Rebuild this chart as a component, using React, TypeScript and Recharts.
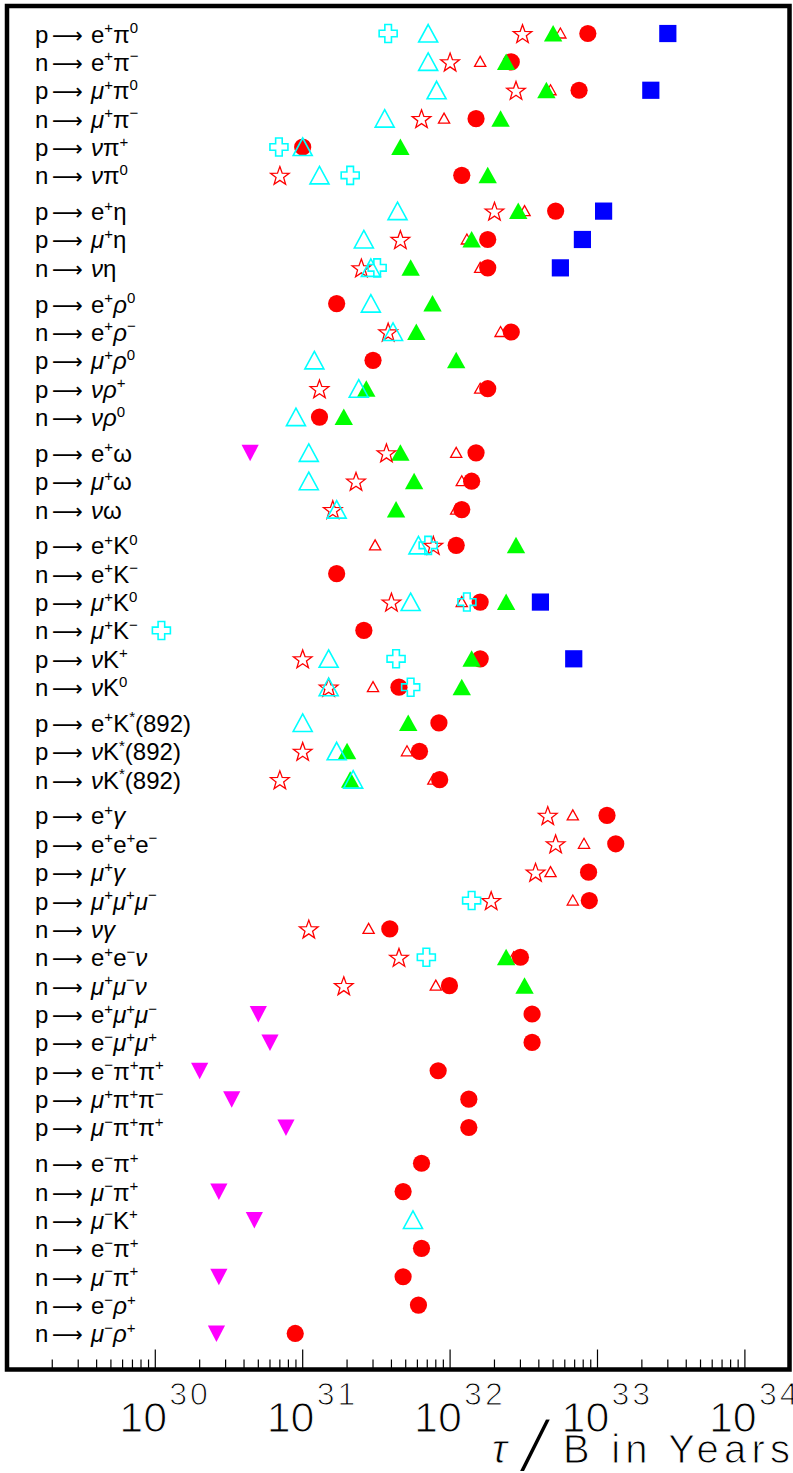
import React from 'react';
import { ScatterChart, Scatter, XAxis, YAxis, ReferenceArea, Label } from 'recharts';

// ---------- categories (decay modes, top to bottom) ----------
const decayModes: string[] = [
  'p→e^{+}π^{0}', 'n→e^{+}π^{−}', 'p→μ^{+}π^{0}', 'n→μ^{+}π^{−}', 'p→νπ^{+}', 'n→νπ^{0}',
  'p→e^{+}η', 'p→μ^{+}η', 'n→νη',
  'p→e^{+}ρ^{0}', 'n→e^{+}ρ^{−}', 'p→μ^{+}ρ^{0}', 'p→νρ^{+}', 'n→νρ^{0}',
  'p→e^{+}ω', 'p→μ^{+}ω', 'n→νω',
  'p→e^{+}K^{0}', 'n→e^{+}K^{−}', 'p→μ^{+}K^{0}', 'n→μ^{+}K^{−}', 'p→νK^{+}', 'n→νK^{0}',
  'p→e^{+}K^{*}(892)', 'p→νK^{*}(892)', 'n→νK^{*}(892)',
  'p→e^{+}γ', 'p→e^{+}e^{+}e^{−}', 'p→μ^{+}γ', 'p→μ^{+}μ^{+}μ^{−}', 'n→νγ', 'n→e^{+}e^{−}ν',
  'n→μ^{+}μ^{−}ν', 'p→e^{+}μ^{+}μ^{−}', 'p→e^{−}μ^{+}μ^{+}', 'p→e^{−}π^{+}π^{+}', 'p→μ^{+}π^{+}π^{−}', 'p→μ^{−}π^{+}π^{+}',
  'n→e^{−}π^{+}', 'n→μ^{−}π^{+}', 'n→μ^{−}K^{+}', 'n→e^{−}π^{+}', 'n→μ^{−}π^{+}', 'n→e^{−}ρ^{+}', 'n→μ^{−}ρ^{+}',
];
const groupSizes: number[] = [6, 3, 5, 3, 6, 3, 12, 7];

// ---------- series: [decay mode index, tau/B in years] ----------
const redCircle: [number, number][] = [
  [0, 8.6e32], [1, 2.6e32], [2, 7.5e32], [3, 1.5e32], [4, 1.0e31], [5, 1.2e32],
  [6, 5.2e32], [7, 1.8e32], [8, 1.8e32],
  [9, 1.7e31], [10, 2.6e32], [11, 3.0e31], [12, 1.8e32], [13, 1.3e31],
  [14, 1.5e32], [15, 1.4e32], [16, 1.2e32],
  [17, 1.1e32], [18, 1.7e31], [19, 1.6e32], [20, 2.6e31], [21, 1.6e32], [22, 4.5e31],
  [23, 8.4e31], [24, 6.2e31], [25, 8.5e31],
  [26, 1.16e33], [27, 1.33e33], [28, 8.7e32], [29, 8.8e32], [30, 3.9e31], [31, 3.0e32],
  [32, 9.9e31], [33, 3.6e32], [34, 3.6e32], [35, 8.3e31], [36, 1.34e32], [37, 1.34e32],
  [38, 6.4e31], [39, 4.8e31], [41, 6.4e31], [42, 4.8e31], [43, 6.1e31], [44, 8.9e30],
];
const greenTriangle: [number, number][] = [
  [0, 5.0e32], [1, 2.4e32], [2, 4.5e32], [3, 2.2e32], [4, 4.6e31], [5, 1.8e32],
  [6, 2.9e32], [7, 1.4e32], [8, 5.4e31],
  [9, 7.6e31], [10, 5.9e31], [11, 1.1e32], [12, 2.7e31], [13, 1.9e31],
  [14, 4.6e31], [15, 5.7e31], [16, 4.3e31],
  [17, 2.8e32], [19, 2.4e32], [21, 1.4e32], [22, 1.2e32],
  [23, 5.2e31], [24, 2.0e31], [25, 2.1e31],
  [31, 2.4e32], [32, 3.2e32],
];
const openStar: [number, number][] = [
  [0, 3.1e32], [1, 1.0e32], [2, 2.8e32], [3, 6.4e31], [5, 7.0e30],
  [6, 2.0e32], [7, 4.6e31], [8, 2.5e31],
  [10, 3.8e31], [12, 1.3e31],
  [14, 3.7e31], [15, 2.3e31], [16, 1.6e31],
  [17, 7.7e31], [19, 4.0e31], [21, 1.0e31], [22, 1.5e31],
  [24, 1.0e31], [25, 7.0e30],
  [26, 4.6e32], [27, 5.2e32], [28, 3.8e32], [29, 1.9e32], [30, 1.1e31], [31, 4.5e31], [32, 1.9e31],
];
const smallTriangle: [number, number][] = [
  [0, 5.6e32], [1, 1.6e32], [2, 4.8e32], [3, 9.1e31],
  [6, 3.2e32], [7, 1.3e32], [8, 1.6e32],
  [10, 2.2e32], [12, 1.6e32],
  [14, 1.1e32], [15, 1.2e32], [16, 1.1e32],
  [17, 3.1e31], [19, 1.2e32], [22, 3.0e31],
  [24, 5.1e31], [25, 7.7e31],
  [26, 6.8e32], [27, 8.1e32], [28, 4.8e32], [29, 6.8e32], [30, 2.8e31], [31, 2.7e32], [32, 8.0e31],
];
const cyanTriangle: [number, number][] = [
  [0, 7.1e31], [1, 7.1e31], [2, 8.1e31], [3, 3.6e31], [4, 1.0e31], [5, 1.3e31],
  [6, 4.4e31], [7, 2.6e31], [8, 2.9e31],
  [9, 2.9e31], [10, 4.1e31], [11, 1.2e31], [12, 2.4e31], [13, 9.0e30],
  [14, 1.1e31], [15, 1.1e31], [16, 1.7e31],
  [17, 6.1e31], [19, 5.4e31], [21, 1.5e31], [22, 1.5e31],
  [23, 1.0e31], [24, 1.7e31], [25, 2.2e31],
  [40, 5.6e31],
];
const cyanCross: [number, number][] = [
  [0, 3.8e31], [4, 6.9e30], [5, 2.1e31], [8, 3.2e31],
  [17, 7.1e31], [19, 1.3e32], [20, 1.1e30], [21, 4.3e31], [22, 5.4e31],
  [29, 1.4e32], [31, 6.9e31],
];
const blueSquare: [number, number][] = [
  [0, 3.0e33], [2, 2.3e33], [6, 1.1e33], [7, 7.9e32], [8, 5.6e32], [19, 4.1e32], [21, 6.9e32],
];
const magentaDown: [number, number][] = [
  [14, 4.4e30], [33, 5.0e30], [34, 6.0e30], [35, 2.0e30], [36, 3.3e30], [37, 7.7e30],
  [39, 2.7e30], [40, 4.7e30], [42, 2.7e30], [44, 2.6e30],
];

const xTitle = 'τ / B in Years';

// ---------- layout ----------
const W = 793;
const H = 1473;
const GAP = 0.26;
const FONT = '"Liberation Sans", Arial, Helvetica, sans-serif';

const rowPositions: number[] = (() => {
  const out: number[] = [];
  let i = 0;
  groupSizes.forEach((n, g) => {
    for (let k = 0; k < n; k++) {
      out.push(i + g * GAP);
      i++;
    }
  });
  return out;
})();

const yDomain: [number, number] = [-0.97, 47.09];
const xDomain: [number, number] = [Math.pow(10, 28.994), Math.pow(10, 34.3026)];

const xTicks: number[] = (() => {
  const t: number[] = [];
  for (let e = 29; e <= 34; e++) {
    for (let m = 1; m <= 9; m++) {
      const v = m * Math.pow(10, e);
      if (v >= xDomain[0] && v < 1.9e34) t.push(v);
    }
  }
  return t;
})();

const toPoints = (arr: [number, number][]) => arr.map(([i, tau]) => ({ pos: rowPositions[i], tau }));

// ---------- markers ----------
const CircleMark = (p: any) => <circle cx={p.cx} cy={p.cy} r={8.6} fill="#ff0000" />;
const GreenTri = (p: any) => (
  <polygon points={`${p.cx},${p.cy - 8.5} ${p.cx + 9.2},${p.cy + 8} ${p.cx - 9.2},${p.cy + 8}`} fill="#00ff00" />
);
const SmallTri = (p: any) => (
  <polygon points={`${p.cx},${p.cy - 5.5} ${p.cx + 5.6},${p.cy + 4.5} ${p.cx - 5.6},${p.cy + 4.5}`} fill="none" stroke="#ff0000" strokeWidth={1.3} />
);
const CyanTri = (p: any) => (
  <polygon points={`${p.cx},${p.cy - 9} ${p.cx + 9.5},${p.cy + 8.5} ${p.cx - 9.5},${p.cy + 8.5}`} fill="none" stroke="#00ffff" strokeWidth={1.6} />
);
const StarMark = (p: any) => {
  const pts: string[] = [];
  for (let k = 0; k < 10; k++) {
    const r = k % 2 === 0 ? 9.8 : 4.0;
    const a = -Math.PI / 2 + (k * Math.PI) / 5;
    pts.push(`${p.cx + r * Math.cos(a)},${p.cy + 1 + r * Math.sin(a)}`);
  }
  return <polygon points={pts.join(' ')} fill="none" stroke="#ff0000" strokeWidth={1.3} />;
};
const CrossMark = (p: any) => {
  const s = 9;
  const a = 3.3;
  const { cx, cy } = p;
  const d = `M${cx - a},${cy - s} H${cx + a} V${cy - a} H${cx + s} V${cy + a} H${cx + a} V${cy + s} H${cx - a} V${cy + a} H${cx - s} V${cy - a} H${cx - a} Z`;
  return <path d={d} fill="none" stroke="#00ffff" strokeWidth={1.6} />;
};
const SquareMark = (p: any) => <rect x={p.cx - 8.6} y={p.cy - 8.6} width={17.2} height={17.2} fill="#0000ff" />;
const DownTri = (p: any) => (
  <polygon points={`${p.cx - 8.6},${p.cy - 8} ${p.cx + 8.6},${p.cy - 8} ${p.cx},${p.cy + 8.5}`} fill="#ff00ff" />
);

// ---------- label rendering ----------
const ITALIC = 'μνγρ';
const renderFormula = (s: string, baseSize: number, supSize: number) => {
  const segs: { t: string; sup: boolean }[] = [];
  const re = /\^\{([^}]*)\}/g;
  let last = 0;
  let m: RegExpExecArray | null;
  while ((m = re.exec(s))) {
    if (m.index > last) segs.push({ t: s.slice(last, m.index), sup: false });
    segs.push({ t: m[1], sup: true });
    last = m.index + m[0].length;
  }
  if (last < s.length) segs.push({ t: s.slice(last), sup: false });
  const out: React.ReactNode[] = [];
  let raised = false;
  let key = 0;
  segs.forEach((seg) => {
    if (seg.sup) {
      out.push(
        <tspan key={key++} fontSize={supSize} dy={raised ? 0 : -9.5}>{seg.t}</tspan>
      );
      raised = true;
    } else {
      const runs: { t: string; it: boolean }[] = [];
      for (const ch of seg.t) {
        const it = ITALIC.includes(ch);
        if (runs.length && runs[runs.length - 1].it === it) runs[runs.length - 1].t += ch;
        else runs.push({ t: ch, it });
      }
      runs.forEach((r) => {
        out.push(
          <tspan key={key++} fontSize={baseSize} dy={raised ? 9.5 : 0} fontStyle={r.it ? 'italic' : 'normal'}>{r.t}</tspan>
        );
        raised = false;
      });
    }
  });
  return out;
};

const ModeTick = (props: any) => {
  const { y, payload } = props;
  let idx = 0;
  let best = Infinity;
  rowPositions.forEach((p, i) => {
    const d = Math.abs(p - payload.value);
    if (d < best) { best = d; idx = i; }
  });
  const [initial, products] = decayModes[idx].split('→');
  const base = y + 9;
  return (
    <g fontFamily={FONT} fill="#000">
      <text x={35} y={base} fontSize={24}>{initial}</text>
      <text x={52} y={base} fontSize={22} fontFamily='"DejaVu Sans", sans-serif' textLength={31} lengthAdjust="spacingAndGlyphs">⟶</text>
      <text x={91} y={base} fontSize={24}>{renderFormula(products, 24, 15)}</text>
    </g>
  );
};

const LifetimeTick = (props: any) => {
  const { x, y, payload } = props;
  const lg = Math.log10(payload.value);
  const e = Math.round(lg);
  const major = Math.abs(lg - e) < 1e-6;
  const labelled = major && e >= 30;
  return (
    <g>
      <line x1={x} x2={x} y1={y} y2={y - (major ? 20 : 10)} stroke="#000" strokeWidth={1.2} />
      {labelled && (
        <g fontFamily={FONT} fill="#000" stroke="#fff" strokeWidth={1.1}>
          <text x={x - 36} y={y + 62.5} fontSize={43}>10</text>
          <text x={x + 14} y={y + 35.5} fontSize={32} letterSpacing={3}>{String(e)}</text>
        </g>
      )}
    </g>
  );
};

const TitleContent = () => {
  const parts = xTitle.split(' ');
  const tau = parts[0];
  const slash = parts[1];
  const rest = parts.slice(2).join(' ');
  return (
    <g fontFamily={FONT} fill="#000">
      <text x={492} y={1463} fontSize={40} fontStyle="italic" stroke="#fff" strokeWidth={0.8}>{tau}</text>
      <text transform="translate(519,1471) skewX(-13)" x={0} y={0} fontSize={72} stroke="#fff" strokeWidth={1.6}>{slash}</text>
      <text x={563} y={1463} fontSize={40} textLength={227} lengthAdjust="spacing" stroke="#fff" strokeWidth={1}>{rest}</text>
    </g>
  );
};

export default function App() {
  return (
    <div style={{ position: 'absolute', left: 0, top: 0, width: W, height: H, background: '#fff' }}>
      <ScatterChart width={W} height={H} margin={{ top: 6, right: 3.5, bottom: 0, left: 6 }}>
        <XAxis
          type="number"
          dataKey="tau"
          scale="log"
          domain={xDomain}
          allowDataOverflow
          ticks={xTicks}
          interval={0}
          tickLine={false}
          axisLine={false}
          tickSize={0}
          tickMargin={0}
          height={103.5}
          tick={(p: any) => <LifetimeTick {...p} />}
        >
          <Label content={TitleContent} />
        </XAxis>
        <YAxis
          type="number"
          dataKey="pos"
          domain={yDomain}
          reversed
          allowDataOverflow
          ticks={rowPositions}
          interval={0}
          width={1}
          tickLine={false}
          axisLine={false}
          tickSize={0}
          tickMargin={0}
          tick={(p: any) => <ModeTick {...p} />}
        />
        <ReferenceArea
          x1={xDomain[0]}
          x2={xDomain[1]}
          y1={yDomain[0]}
          y2={yDomain[1]}
          fill="none"
          fillOpacity={0}
          stroke="#000"
          strokeWidth={4.5}
          ifOverflow="visible"
        />
        <Scatter data={toPoints(smallTriangle)} shape={SmallTri} isAnimationActive={false} />
        <Scatter data={toPoints(redCircle)} shape={CircleMark} isAnimationActive={false} />
        <Scatter data={toPoints(greenTriangle)} shape={GreenTri} isAnimationActive={false} />
        <Scatter data={toPoints(openStar)} shape={StarMark} isAnimationActive={false} />
        <Scatter data={toPoints(cyanTriangle)} shape={CyanTri} isAnimationActive={false} />
        <Scatter data={toPoints(cyanCross)} shape={CrossMark} isAnimationActive={false} />
        <Scatter data={toPoints(blueSquare)} shape={SquareMark} isAnimationActive={false} />
        <Scatter data={toPoints(magentaDown)} shape={DownTri} isAnimationActive={false} />
      </ScatterChart>
    </div>
  );
}
